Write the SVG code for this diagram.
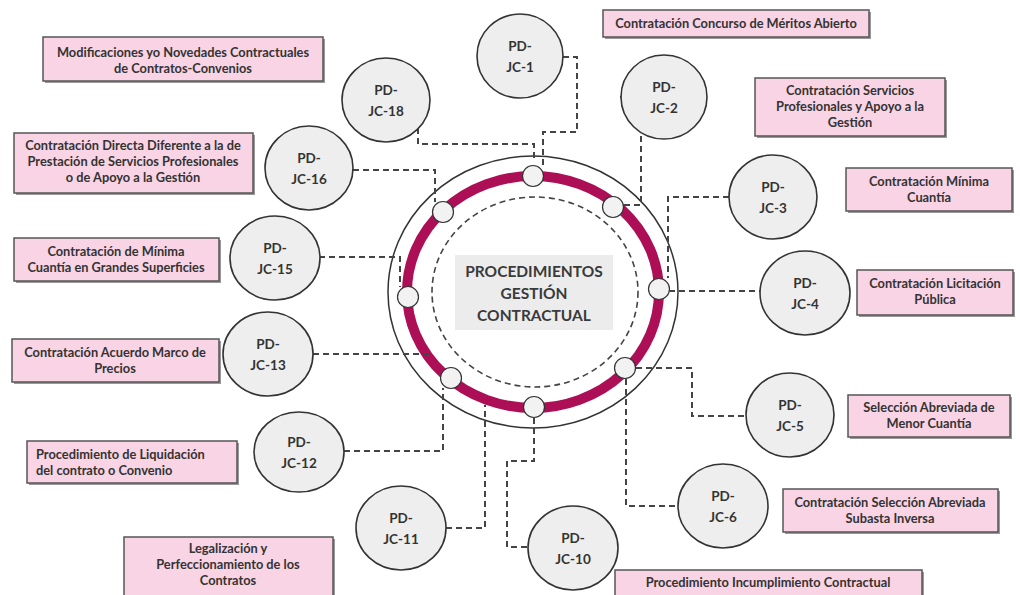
<svg xmlns="http://www.w3.org/2000/svg" width="1020" height="595" viewBox="0 0 1020 595">
<style>
.node ellipse{fill:#eeeeee;stroke:#333;stroke-width:1.6}
.nt{font-family:Lato,"Liberation Sans",sans-serif;font-weight:bold;font-size:13.5px;fill:#333;text-anchor:middle}
.box rect.b{fill:#f9d4e5;stroke:#555;stroke-width:1.5}
.box rect.s{fill:#999}
.bt{font-family:Lato,"Liberation Sans",sans-serif;font-weight:bold;font-size:12.8px;fill:#333;text-anchor:middle}
.bl{font-family:Lato,"Liberation Sans",sans-serif;font-weight:bold;font-size:12.8px;fill:#333;text-anchor:start}
.conn path{fill:none;stroke:#444;stroke-width:2;stroke-dasharray:6 4}
.dot{fill:#f2f2f2;stroke:#333;stroke-width:1.2}
.ct{font-family:Lato,"Liberation Sans",sans-serif;font-weight:bold;font-size:15.5px;fill:#3a3a3a;text-anchor:middle}
</style>
<rect width="1020" height="595" fill="#ffffff"/>

<g id="hub">
  <ellipse cx="533" cy="292" rx="145" ry="136" fill="#ffffff" stroke="#333" stroke-width="1.5"/>
  <ellipse cx="533" cy="292" rx="126" ry="116" fill="none" stroke="#ad0f57" stroke-width="10"/>
  <ellipse cx="535" cy="292" rx="103" ry="95" fill="none" stroke="#444" stroke-width="1.6" stroke-dasharray="6 4"/>
  <rect x="455" y="255" width="158" height="75" fill="#ececec"/>
  <text class="ct" x="534" y="277">PROCEDIMIENTOS</text>
  <text class="ct" x="534" y="299">GESTIÓN</text>
  <text class="ct" x="534" y="321">CONTRACTUAL</text>
  <circle class="dot" cx="533" cy="176" r="10.5"/>
  <circle class="dot" cx="613" cy="207" r="10.5"/>
  <circle class="dot" cx="659" cy="289" r="10.5"/>
  <circle class="dot" cx="625" cy="368" r="10.5"/>
  <circle class="dot" cx="534" cy="407" r="10.5"/>
  <circle class="dot" cx="451" cy="378" r="10.5"/>
  <circle class="dot" cx="408" cy="297" r="10.5"/>
  <circle class="dot" cx="443" cy="212" r="10.5"/>
</g>

<g id="connectors" class="conn">
  <path d="M563,57 H577 V132 H543 V166"/>
  <path d="M418,128 V144 H534 V158"/>
  <path d="M620,97 H641 V205 H624"/>
  <path d="M729,197 H668 V278"/>
  <path d="M669,291 H761"/>
  <path d="M636,368 H692 V416 H746"/>
  <path d="M626,379 V506 H678"/>
  <path d="M534,418 V461 H507 V547 H528"/>
  <path d="M446,528 H485 V405"/>
  <path d="M344,451 H443 V388"/>
  <path d="M313,354 H430"/>
  <path d="M319,257 H400 V287"/>
  <path d="M353,170 H435 V202"/>
</g>

<g id="n1" class="node"><ellipse cx="520" cy="56" rx="43" ry="42"/><text class="nt" x="520" y="51">PD-</text><text class="nt" x="520" y="72">JC-1</text></g>
<g id="n18" class="node"><ellipse cx="386" cy="100" rx="44" ry="42"/><text class="nt" x="386" y="95">PD-</text><text class="nt" x="386" y="116">JC-18</text></g>
<g id="n2" class="node"><ellipse cx="664" cy="97" rx="43" ry="42"/><text class="nt" x="664" y="92">PD-</text><text class="nt" x="664" y="113">JC-2</text></g>
<g id="n16" class="node"><ellipse cx="309" cy="168" rx="44" ry="42"/><text class="nt" x="309" y="163">PD-</text><text class="nt" x="309" y="184">JC-16</text></g>
<g id="n3" class="node"><ellipse cx="773" cy="197" rx="44" ry="42"/><text class="nt" x="773" y="192">PD-</text><text class="nt" x="773" y="213">JC-3</text></g>
<g id="n15" class="node"><ellipse cx="275" cy="258" rx="45" ry="42"/><text class="nt" x="275" y="253">PD-</text><text class="nt" x="275" y="274">JC-15</text></g>
<g id="n4" class="node"><ellipse cx="805" cy="293" rx="45" ry="42"/><text class="nt" x="805" y="288">PD-</text><text class="nt" x="805" y="309">JC-4</text></g>
<g id="n13" class="node"><ellipse cx="268" cy="354" rx="45" ry="42"/><text class="nt" x="268" y="349">PD-</text><text class="nt" x="268" y="370">JC-13</text></g>
<g id="n5" class="node"><ellipse cx="790" cy="415" rx="44" ry="42"/><text class="nt" x="790" y="410">PD-</text><text class="nt" x="790" y="431">JC-5</text></g>
<g id="n12" class="node"><ellipse cx="299" cy="452" rx="45" ry="40"/><text class="nt" x="299" y="447">PD-</text><text class="nt" x="299" y="468">JC-12</text></g>
<g id="n11" class="node"><ellipse cx="401" cy="528" rx="45" ry="42"/><text class="nt" x="401" y="523">PD-</text><text class="nt" x="401" y="544">JC-11</text></g>
<g id="n6" class="node"><ellipse cx="723" cy="506" rx="45" ry="42"/><text class="nt" x="723" y="501">PD-</text><text class="nt" x="723" y="522">JC-6</text></g>
<g id="n10" class="node"><ellipse cx="573" cy="548" rx="45" ry="42"/><text class="nt" x="573" y="543">PD-</text><text class="nt" x="573" y="564">JC-10</text></g>

<g id="l18" class="box"><rect class="s" x="45" y="39" width="280" height="44"/><rect class="b" x="43" y="37" width="280" height="44"/><text class="bt" x="183" y="57">Modificaciones yo Novedades Contractuales</text><text class="bt" x="183" y="73">de Contratos-Convenios</text></g>
<g id="l16" class="box"><rect class="s" x="16" y="135" width="239" height="60"/><rect class="b" x="14" y="133" width="239" height="60"/><text class="bt" x="133" y="150">Contratación Directa Diferente a la de</text><text class="bt" x="133" y="166">Prestación de Servicios Profesionales</text><text class="bt" x="133" y="182">o de Apoyo a la Gestión</text></g>
<g id="l15" class="box"><rect class="s" x="16" y="240" width="205" height="43"/><rect class="b" x="14" y="238" width="205" height="43"/><text class="bt" x="116" y="256">Contratación de Mínima</text><text class="bt" x="116" y="272">Cuantía en Grandes Superficies</text></g>
<g id="l13" class="box"><rect class="s" x="14" y="341" width="207" height="43"/><rect class="b" x="12" y="339" width="207" height="43"/><text class="bt" x="115" y="357">Contratación Acuerdo Marco de</text><text class="bt" x="115" y="373">Precios</text></g>
<g id="l12" class="box"><rect class="s" x="29" y="443" width="210" height="42"/><rect class="b" x="27" y="441" width="210" height="42"/><text class="bl" x="36" y="459">Procedimiento de Liquidación</text><text class="bl" x="36" y="475">del contrato o Convenio</text></g>
<g id="l11" class="box"><rect class="s" x="126" y="539" width="209" height="64"/><rect class="b" x="124" y="537" width="209" height="64"/><text class="bt" x="228" y="553">Legalización y</text><text class="bt" x="228" y="569">Perfeccionamiento de los</text><text class="bt" x="228" y="585">Contratos</text></g>
<g id="l10" class="box"><rect class="s" x="617" y="572" width="307" height="30"/><rect class="b" x="615" y="570" width="307" height="30"/><text class="bt" x="768" y="587">Procedimiento Incumplimiento Contractual</text></g>
<g id="l6" class="box"><rect class="s" x="785" y="491" width="215" height="43"/><rect class="b" x="783" y="489" width="215" height="43"/><text class="bt" x="890" y="507">Contratación Selección Abreviada</text><text class="bt" x="890" y="523">Subasta Inversa</text></g>
<g id="l5" class="box"><rect class="s" x="850" y="397" width="162" height="42"/><rect class="b" x="848" y="395" width="162" height="42"/><text class="bt" x="929" y="412">Selección Abreviada de</text><text class="bt" x="929" y="428">Menor Cuantía</text></g>
<g id="l4" class="box"><rect class="s" x="859" y="272" width="156" height="45"/><rect class="b" x="857" y="270" width="156" height="45"/><text class="bt" x="935" y="288">Contratación Licitación</text><text class="bt" x="935" y="304">Pública</text></g>
<g id="l3" class="box"><rect class="s" x="848" y="170" width="166" height="43"/><rect class="b" x="846" y="168" width="166" height="43"/><text class="bt" x="929" y="186">Contratación Mínima</text><text class="bt" x="929" y="202">Cuantía</text></g>
<g id="l2" class="box"><rect class="s" x="757" y="80" width="190" height="58"/><rect class="b" x="755" y="78" width="190" height="58"/><text class="bt" x="850" y="95">Contratación Servicios</text><text class="bt" x="850" y="111">Profesionales y Apoyo a la</text><text class="bt" x="850" y="127">Gestión</text></g>
<g id="l1" class="box"><rect class="s" x="605" y="12" width="266" height="27"/><rect class="b" x="603" y="10" width="266" height="27"/><text class="bt" x="736" y="28">Contratación Concurso de Méritos Abierto</text></g>
</svg>
